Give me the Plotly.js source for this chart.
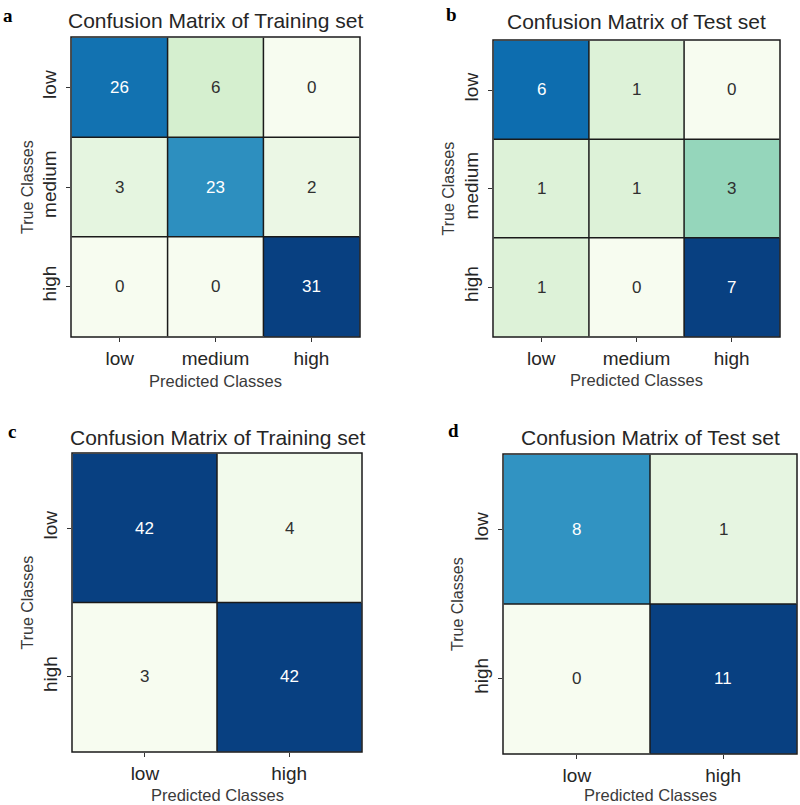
<!DOCTYPE html>
<html>
<head>
<meta charset="utf-8">
<script src="https://cdn.plot.ly/plotly-3.0.1.min.js"></script>
<style>html,body{margin:0;padding:0;background:#fff;}#chart{width:800px;height:805px;}</style>
</head>
<body>
<div id="chart"></div>
<script>
// ---- data ----
const classes3 = ['low', 'medium', 'high'];
const classes2 = ['low', 'high'];
const trainA = [[26, 6, 0], [3, 23, 2], [0, 0, 31]];
const testB = [[6, 1, 0], [1, 1, 3], [1, 0, 7]];
const trainC = [[42, 4], [3, 42]];
const testD = [[8, 1], [0, 11]];
const titleTrain = 'Confusion Matrix of Training set';
const titleTest = 'Confusion Matrix of Test set';
const panelLetters = ['a', 'b', 'c', 'd'];
const xTitle = 'Predicted Classes';
const yTitle = 'True Classes';

// ---- layout helpers ----
const W = 800, H = 805;
const FONT = 'Liberation Sans, Arial, sans-serif';
const gnbu = [
  [0.0, '#f7fcf0'], [0.125, '#e0f3db'], [0.25, '#ccebc5'], [0.375, '#a8ddb5'],
  [0.5, '#7bccc4'], [0.625, '#4eb3d3'], [0.75, '#2b8cbe'], [0.875, '#0868ac'], [1.0, '#084081']
];

const panels = [
  {z: trainA, cats: classes3, title: titleTrain, box: [71, 360, 37, 337], titleY: 20, xTitleY: 381, yTitleX: 27, letter: [8, 15]},
  {z: testB, cats: classes3, title: titleTest, box: [493, 780, 40, 337], titleY: 22, xTitleY: 380, yTitleX: 448, letter: [452, 14]},
  {z: trainC, cats: classes2, title: titleTrain, box: [72, 362, 453, 752], titleY: 437, xTitleY: 795, yTitleX: 27, letter: [12, 432]},
  {z: testD, cats: classes2, title: titleTest, box: [503, 797, 454, 754], titleY: 437, xTitleY: 795, yTitleX: 457, letter: [453, 430]}
];

const data = [];
const layout = {
  width: W, height: H,
  margin: {l: 0, r: 0, t: 0, b: 0},
  paper_bgcolor: '#fff', plot_bgcolor: '#fff',
  showlegend: false,
  font: {family: FONT, color: '#262626'},
  annotations: [], shapes: []
};

panels.forEach((p, k) => {
  const n = k + 1;
  const xa = n === 1 ? 'x' : 'x' + n;
  const ya = n === 1 ? 'y' : 'y' + n;
  const xk = n === 1 ? 'xaxis' : 'xaxis' + n;
  const yk = n === 1 ? 'yaxis' : 'yaxis' + n;
  const [x0, x1, top, bot] = p.box;
  let zmin = Infinity, zmax = -Infinity;
  p.z.forEach(r => r.forEach(v => { zmin = Math.min(zmin, v); zmax = Math.max(zmax, v); }));

  data.push({
    type: 'heatmap', z: p.z, x: p.cats, y: p.cats, xaxis: xa, yaxis: ya,
    colorscale: gnbu, zmin: zmin, zmax: zmax, showscale: false, hoverinfo: 'z'
  });

  const axCommon = {
    type: 'category', ticks: 'outside', ticklen: 4, tickwidth: 1, tickcolor: '#333',
    tickfont: {family: FONT, size: 19, color: '#262626'},
    showgrid: false, zeroline: false, showline: false, fixedrange: true
  };
  layout[xk] = Object.assign({}, axCommon, {domain: [x0 / W, x1 / W], anchor: ya, ticklabelstandoff: 0});
  layout[yk] = Object.assign({}, axCommon, {domain: [(H - bot) / H, (H - top) / H], anchor: xa,
    autorange: 'reversed', tickangle: -90, ticklabelstandoff: 2});

  // cell values
  p.z.forEach((row, i) => row.forEach((v, j) => {
    const t = (v - zmin) / (zmax - zmin);
    layout.annotations.push({
      xref: xa, yref: ya, x: p.cats[j], y: p.cats[i], text: String(v), showarrow: false,
      font: {family: FONT, size: 17, color: t > 0.6 ? '#ffffff' : '#303030'}
    });
  }));

  // grid lines between cells and frame
  const m = p.cats.length;
  const ln = {color: '#1a1a1a', width: 1.5};
  for (let i = 1; i < m; i++) {
    layout.shapes.push({type: 'line', xref: xa, yref: ya, x0: i - 0.5, x1: i - 0.5, y0: -0.5, y1: m - 0.5, line: ln});
    layout.shapes.push({type: 'line', xref: xa, yref: ya, y0: i - 0.5, y1: i - 0.5, x0: -0.5, x1: m - 0.5, line: ln});
  }
  layout.shapes.push({type: 'rect', xref: xa + ' domain', yref: ya + ' domain', x0: 0, x1: 1, y0: 0, y1: 1, line: ln});

  const cx = (x0 + x1) / 2 / W;
  // title
  layout.annotations.push({xref: 'paper', yref: 'paper', x: cx, y: (H - p.titleY) / H, xanchor: 'center', yanchor: 'middle',
    text: p.title, showarrow: false, font: {family: FONT, size: 21, color: '#262626'}});
  // x title
  layout.annotations.push({xref: 'paper', yref: 'paper', x: cx, y: (H - p.xTitleY) / H, xanchor: 'center', yanchor: 'middle',
    text: xTitle, showarrow: false, font: {family: FONT, size: 16.5, color: '#3a3a3a'}});
  // y title
  layout.annotations.push({xref: 'paper', yref: 'paper', x: p.yTitleX / W, y: (H - (top + bot) / 2) / H, xanchor: 'center', yanchor: 'middle',
    text: yTitle, textangle: -90, showarrow: false, font: {family: FONT, size: 16, color: '#3a3a3a'}});
  // panel letter
  layout.annotations.push({xref: 'paper', yref: 'paper', x: p.letter[0] / W, y: (H - p.letter[1]) / H, xanchor: 'center', yanchor: 'middle',
    text: '<b>' + panelLetters[k] + '</b>', showarrow: false, font: {family: 'Liberation Serif, Times New Roman, serif', size: 19, color: '#000'}});
});

Plotly.newPlot('chart', data, layout, {displayModeBar: false, staticPlot: true});
</script>
</body>
</html>
